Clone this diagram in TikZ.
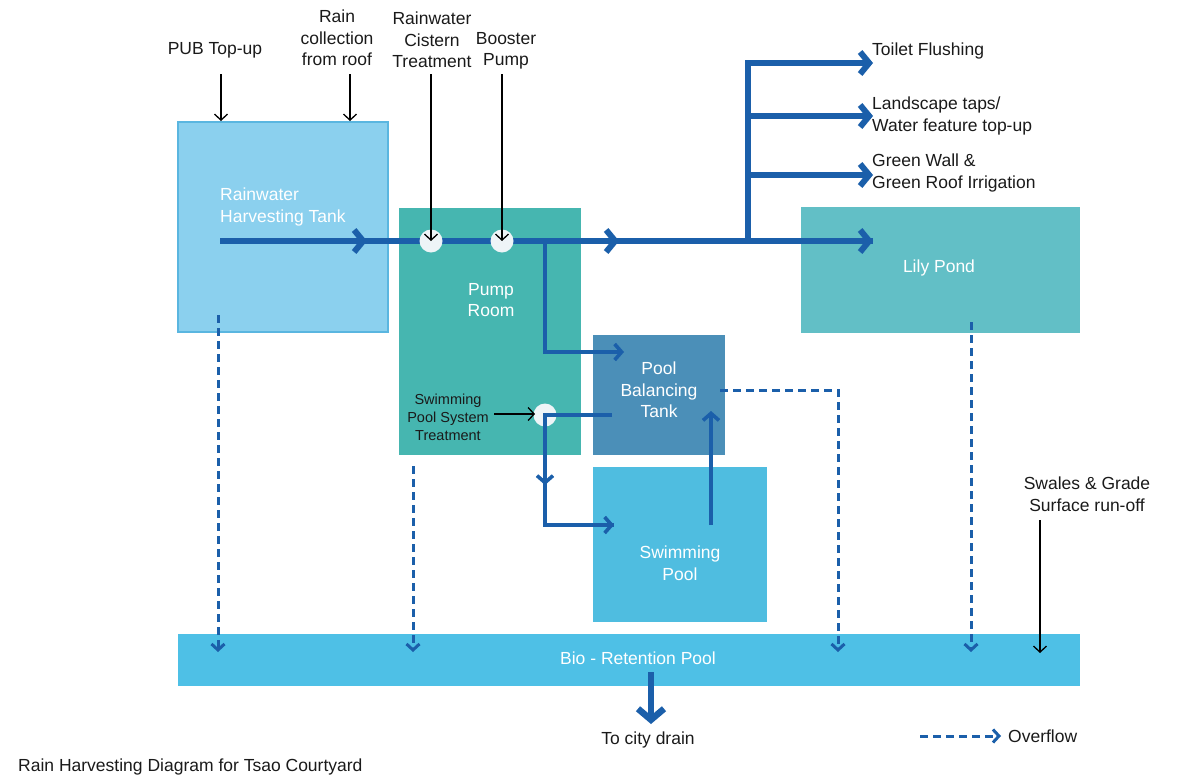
\documentclass[tikz,border=0pt]{standalone}
\usepackage{fontspec}
\setmainfont{Liberation Sans}
\usetikzlibrary{arrows.meta}
\definecolor{pipec}{HTML}{1B5FAA}
\definecolor{tankc}{HTML}{8BD0EE}
\definecolor{tankb}{HTML}{5AB6E0}
\definecolor{pumpc}{HTML}{46B6B0}
\definecolor{balc}{HTML}{4B8FB8}
\definecolor{swimc}{HTML}{4FBDE0}
\definecolor{lilyc}{HTML}{62BFC6}
\definecolor{bioc}{HTML}{4EC0E6}
\definecolor{valvec}{HTML}{EEF4F7}
\definecolor{txtc}{HTML}{1A1A1A}
\tikzset{
  box/.style={draw=none, inner sep=0pt, outer sep=0pt},
  lbl/.style={font=\fontsize{17.5}{21.5}\selectfont, text=txtc, align=center, inner sep=0pt},
  wlbl/.style={font=\fontsize{17.5}{21.5}\selectfont, text=white, align=center, inner sep=0pt},
  pipe/.style={draw=pipec, line width=5.5pt},
  thinpipe/.style={draw=pipec, line width=3.4pt},
  bigchev/.style={-{Straight Barb[length=9pt,width=22pt,line width=6pt]}},
  smallchev/.style={-{Straight Barb[length=7pt,width=16pt,line width=3.6pt]}},
  overflow/.style={draw=pipec, line width=3pt, dash pattern=on 8pt off 5pt, -{Straight Barb[length=6pt,width=13pt,line width=3pt]}},
  feed/.style={draw=black, line width=1.3pt, -{Straight Barb[length=6pt,width=13pt,line width=1.3pt]}},
  valve/.style={circle, fill=valvec, draw=none, minimum size=23pt, inner sep=0pt},
}
\begin{document}
\begin{tikzpicture}[x=1pt,y=-1pt]
\useasboundingbox (0,0) rectangle (1200,782);
% boxes
\node[box, fill=tankc, draw=tankb, line width=1.2pt, minimum width=210pt, minimum height=210pt, anchor=north west] (tank) at (178,122) {};
\node[box, fill=pumpc, minimum width=182pt, minimum height=247pt, anchor=north west] (pump) at (399,208) {};
\node[box, fill=balc, minimum width=132pt, minimum height=120pt, anchor=north west] (bal) at (593,335) {};
\node[box, fill=swimc, minimum width=174pt, minimum height=155pt, anchor=north west] (swim) at (593,467) {};
\node[box, fill=lilyc, minimum width=279pt, minimum height=126pt, anchor=north west] (lily) at (801,207) {};
\node[box, fill=bioc, minimum width=902pt, minimum height=52pt, anchor=north west] (bio) at (178,634) {};

% box labels
\node[wlbl, align=left, anchor=west] (tanklbl) at (220,207) {Rainwater\\Harvesting Tank};
\node[wlbl] (pumplbl) at (491,300) {Pump\\Room};
\node[wlbl] (ballbl) at (659,390) {Pool\\Balancing\\Tank};
\node[wlbl] (swimlbl) at (680,563) {Swimming\\Pool};
\node[wlbl] (lilylbl) at (939,268) {Lily Pond};
\node[wlbl] (biolbl) at (638,658) {Bio - Retention Pool};

% main pipe
\coordinate (p0) at (220,241);
\coordinate (c1) at (367,241);
\coordinate (c2) at (619,241);
\coordinate (j) at (748,241);
\coordinate (lilyin) at (873,241);
\coordinate (jt) at (748,63);
\coordinate (j2) at (748,116);
\coordinate (j3) at (748,175);
\coordinate (o1) at (873,63);
\coordinate (o2) at (873,116);
\coordinate (o3) at (873,175);
\draw[pipe] (p0) -- (lilyin);
\draw[pipe, bigchev] (p0) -- (c1);
\draw[pipe, bigchev] (p0) -- (c2);
\draw[pipe, bigchev] (j) -- (lilyin);
\draw[pipe, bigchev] (j) -- (jt) -- (o1);
\draw[pipe, bigchev] (j2) -- (o2);
\draw[pipe, bigchev] (j3) -- (o3);

% valves
\node[valve] (v1) at (431,241) {};
\node[valve] (v2) at (502,241) {};
\node[valve] (v3) at (545,415) {};

% pump to balancing tank
\coordinate (b0) at (545,241);
\coordinate (b1) at (545,352);
\coordinate (b2) at (624,352);
\draw[thinpipe, smallchev] (b0) -- (b1) -- (b2);
% balancing tank to treatment valve, to pool
\coordinate (t0) at (612,415);
\coordinate (t1) at (545,485);
\coordinate (t2) at (545,525);
\coordinate (t3) at (614,525);
\draw[thinpipe] (t0) -- (v3.center) -- (t2) -- (t3);
\draw[thinpipe, smallchev] (v3.center) -- (t1);
\draw[thinpipe, smallchev] (t2) -- (t3);
% pool back up to balancing tank
\coordinate (s0) at (711,525);
\coordinate (s1) at (711,411);
\draw[thinpipe, smallchev] (s0) -- (s1);

% top labels and feeds
\node[lbl] (pub) at (215,50) {PUB Top-up};
\node[lbl] (rain) at (337,38) {Rain\\collection\\from roof};
\node[lbl] (cist) at (432,40) {Rainwater\\Cistern\\Treatment};
\node[lbl] (boost) at (506,51) {Booster\\Pump};
\coordinate (f1) at (221,121);
\coordinate (f2) at (350,121);
\draw[feed] (221,74) -- (f1);
\draw[feed] (350,74) -- (f2);
\draw[feed] (431,74) -- (v1.center);
\draw[feed] (502,74) -- (v2.center);

% outputs
\node[lbl, anchor=west] (toilet) at (872,51) {Toilet Flushing};
\node[lbl, anchor=west, align=left] (land) at (872,116) {Landscape taps/\\Water feature top-up};
\node[lbl, anchor=west, align=left] (green) at (872,173) {Green Wall \&\\Green Roof Irrigation};

% swimming pool treatment
\node[font=\fontsize{14.5}{18}\selectfont, text=txtc, align=center, inner sep=0pt] (spst) at (448,417) {Swimming\\Pool System\\Treatment};
\draw[feed] (494,414) -- (535,414);

% overflows
\coordinate (d1) at (218,652);
\coordinate (d2) at (413,652);
\coordinate (d3) at (838,652);
\coordinate (d4) at (971,652);
\draw[overflow] (218,315) -- (d1);
\draw[overflow] (413,466) -- (d2);
\draw[overflow] (720,390) -- (838,390) -- (d3);
\draw[overflow] (971,322) -- (d4);

% swales
\node[lbl] (swales) at (1087,494) {Swales \& Grade\\Surface run-off};
\coordinate (sw1) at (1040,653);
\draw[feed] (1040,520) -- (sw1);

% drain
\node[lbl] (drain) at (648,740) {To city drain};
\coordinate (dr) at (651,724);
\draw[draw=pipec, line width=6.5pt, -{Straight Barb[length=11pt,width=26pt,line width=6.5pt]}] (651,672) -- (dr);

% legend
\node[lbl, anchor=west] (ovl) at (1008,736) {Overflow};
\coordinate (ov) at (1001,736);
\draw[overflow] (920,736) -- (ov);

% caption
\node[lbl, anchor=west] (cap) at (18,767) {Rain Harvesting Diagram for Tsao Courtyard};
\end{tikzpicture}
\end{document}
